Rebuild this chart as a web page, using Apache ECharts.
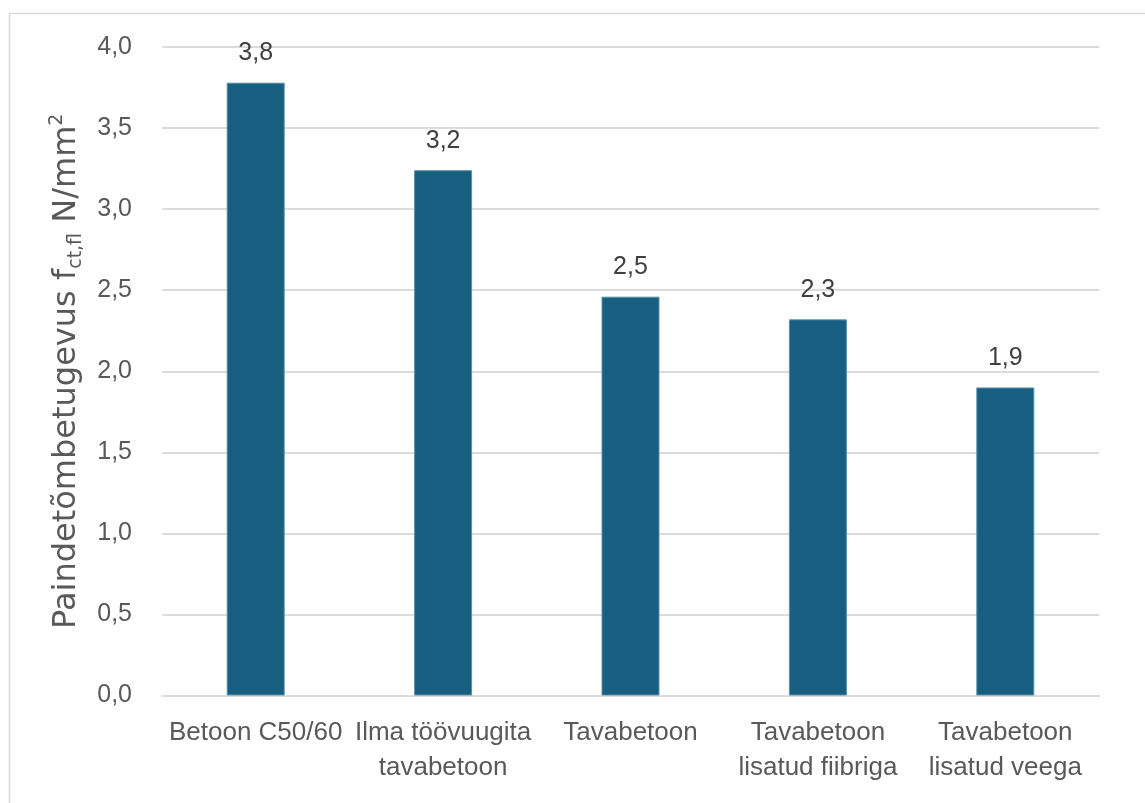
<!DOCTYPE html>
<html>
<head>
<meta charset="utf-8">
<script src="https://cdn.jsdelivr.net/npm/echarts@6/dist/echarts.min.js"></script>
<style>
html,body{margin:0;padding:0;background:#fff;}
#c{width:1145px;height:803px;}
</style>
</head>
<body>
<div id="c"></div>
<script>
var categories = ['Betoon C50/60', 'Ilma töövuugita\ntavabetoon', 'Tavabetoon', 'Tavabetoon\nlisatud fiibriga', 'Tavabetoon\nlisatud veega'];
var values = [3.78, 3.24, 2.46, 2.32, 1.90];
var yTicks = { min: 0, max: 4, interval: 0.5 };
var yTitle = ['Paindetõmbetugevus f', 'ct,fl', ' N/mm', '2'];

function comma(v) { return Number(v).toFixed(1).replace('.', ','); }

var chart = echarts.init(document.getElementById('c'), null, { renderer: 'canvas' });
chart.setOption({
  animation: false,
  backgroundColor: '#ffffff',
  graphic: [{
    type: 'rect', left: 7, top: 11, silent: true,
    shape: { width: 1200, height: 900 },
    style: { fill: 'none', stroke: '#d9d9d9', lineWidth: 1.5 }
  }],
  grid: { left: 162, right: 46, top: 47, bottom: 107.5, containLabel: false },
  xAxis: {
    type: 'category',
    data: categories,
    axisTick: { show: false },
    axisLine: { show: true, lineStyle: { color: '#dcdcdc', width: 2 } },
    axisLabel: {
      interval: 0, margin: 20,
      fontFamily: 'Liberation Sans, Arial, sans-serif', fontSize: 26, lineHeight: 35,
      color: '#595959'
    }
  },
  yAxis: {
    type: 'value',
    min: yTicks.min, max: yTicks.max, interval: yTicks.interval,
    axisLine: { show: false }, axisTick: { show: false },
    splitLine: { lineStyle: { color: '#dcdcdc', width: 2 } },
    axisLabel: {
      margin: 30, formatter: comma,
      fontFamily: 'Liberation Sans, Arial, sans-serif', fontSize: 25, color: '#595959'
    },
    name: '{a|' + yTitle[0] + '}{b|' + yTitle[1] + '}{a|' + yTitle[2] + '}{c|' + yTitle[3] + '}',
    nameLocation: 'middle',
    nameGap: 76,
    nameTextStyle: {
      color: '#595959',
      rich: {
        a: { fontFamily: 'DejaVu Sans', fontSize: 32, lineHeight: 38, color: '#595959' },
        b: { fontFamily: 'DejaVu Sans', fontSize: 19, lineHeight: 19, verticalAlign: 'bottom', color: '#595959' },
        c: { fontFamily: 'DejaVu Sans', fontSize: 19, lineHeight: 19, verticalAlign: 'top', color: '#595959' }
      }
    }
  },
  series: [{
    type: 'bar',
    data: values,
    barWidth: 58,
    itemStyle: { color: '#185E80', borderColor: '#5b8fa8', borderWidth: 1 },
    label: {
      show: true, position: 'top', distance: 17,
      formatter: function (p) { return comma(p.value); },
      fontFamily: 'Liberation Sans, Arial, sans-serif', fontSize: 25, lineHeight: 25,
      color: '#404040'
    }
  }]
});
</script>
</body>
</html>
